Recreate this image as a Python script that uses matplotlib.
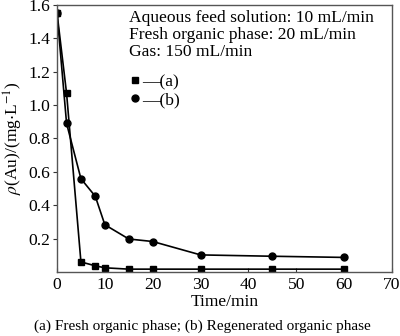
import matplotlib
matplotlib.use("Agg")
import matplotlib.pyplot as plt
from matplotlib.lines import Line2D

time_min = [0, 2, 5, 8, 10, 15, 20, 30, 45, 60]
rho_a = [1.55, 1.07, 0.063, 0.04, 0.028, 0.02, 0.02, 0.02, 0.02, 0.02]
rho_b = [1.55, 0.89, 0.56, 0.455, 0.285, 0.20, 0.185, 0.105, 0.097, 0.09]
yticks = [0.2, 0.4, 0.6, 0.8, 1.0, 1.2, 1.4, 1.6]
xticks = [0, 10, 20, 30, 40, 50, 60, 70]
info_lines = ["Aqueous feed solution: 10 mL/min",
              "Fresh organic phase: 20 mL/min",
              "Gas: 150 mL/min"]
caption = "(a) Fresh organic phase; (b) Regenerated organic phase"

plt.rcParams['font.family'] = ['Liberation Serif', 'DejaVu Serif']
plt.rcParams['mathtext.fontset'] = 'stix'

FS = 12.6

fig = plt.figure(figsize=(4.0, 3.36), dpi=100)
ax = fig.add_axes([0.1425, 0.189, 0.8375, 0.7976])

ax.plot(time_min, rho_a, color='black', lw=1.2, marker='s', ms=5)
ax.plot(time_min, rho_b, color='black', lw=1.2, marker='o', ms=5)

ax.set_xlim(0, 70)
ax.set_ylim(0, 1.6)
ax.set_xticks(xticks)
ax.set_yticks(yticks)
ax.set_yticklabels([f"{v:.1f}" for v in yticks])
ax.tick_params(axis='x', direction='in', length=3, labelsize=FS, colors='#333333', labelcolor='black', pad=3)
ax.tick_params(axis='y', direction='out', length=3, labelsize=FS, colors='#333333', labelcolor='black', pad=2)
for s in ax.spines.values():
    s.set_color('#555555')
    s.set_linewidth(1.0)

ax.set_xlabel("Time/min", fontsize=FS, labelpad=1)
ax.set_ylabel(r"$\rho$(Au)/(mg$\cdot$L$^{-1}$)", fontsize=FS, labelpad=2)

ax.text(0.215, 0.978, "\n".join(info_lines), transform=ax.transAxes,
        fontsize=FS, va='top', ha='left', linespacing=1.05)

handles = [Line2D([], [], color='black', marker='s', ms=5, ls='none'),
           Line2D([], [], color='black', marker='o', ms=5, ls='none')]
ax.legend(handles, ["\u2014(a)", "\u2014(b)"], loc='upper left',
          bbox_to_anchor=(0.207, 0.754), frameon=False, fontsize=FS,
          handlelength=0.6, handletextpad=0.1, labelspacing=0.1,
          borderpad=0.2, borderaxespad=0)

fig.text(0.505, 0.03, caption, ha='center', va='center', fontsize=11)

fig.savefig("out.png", dpi=100)
